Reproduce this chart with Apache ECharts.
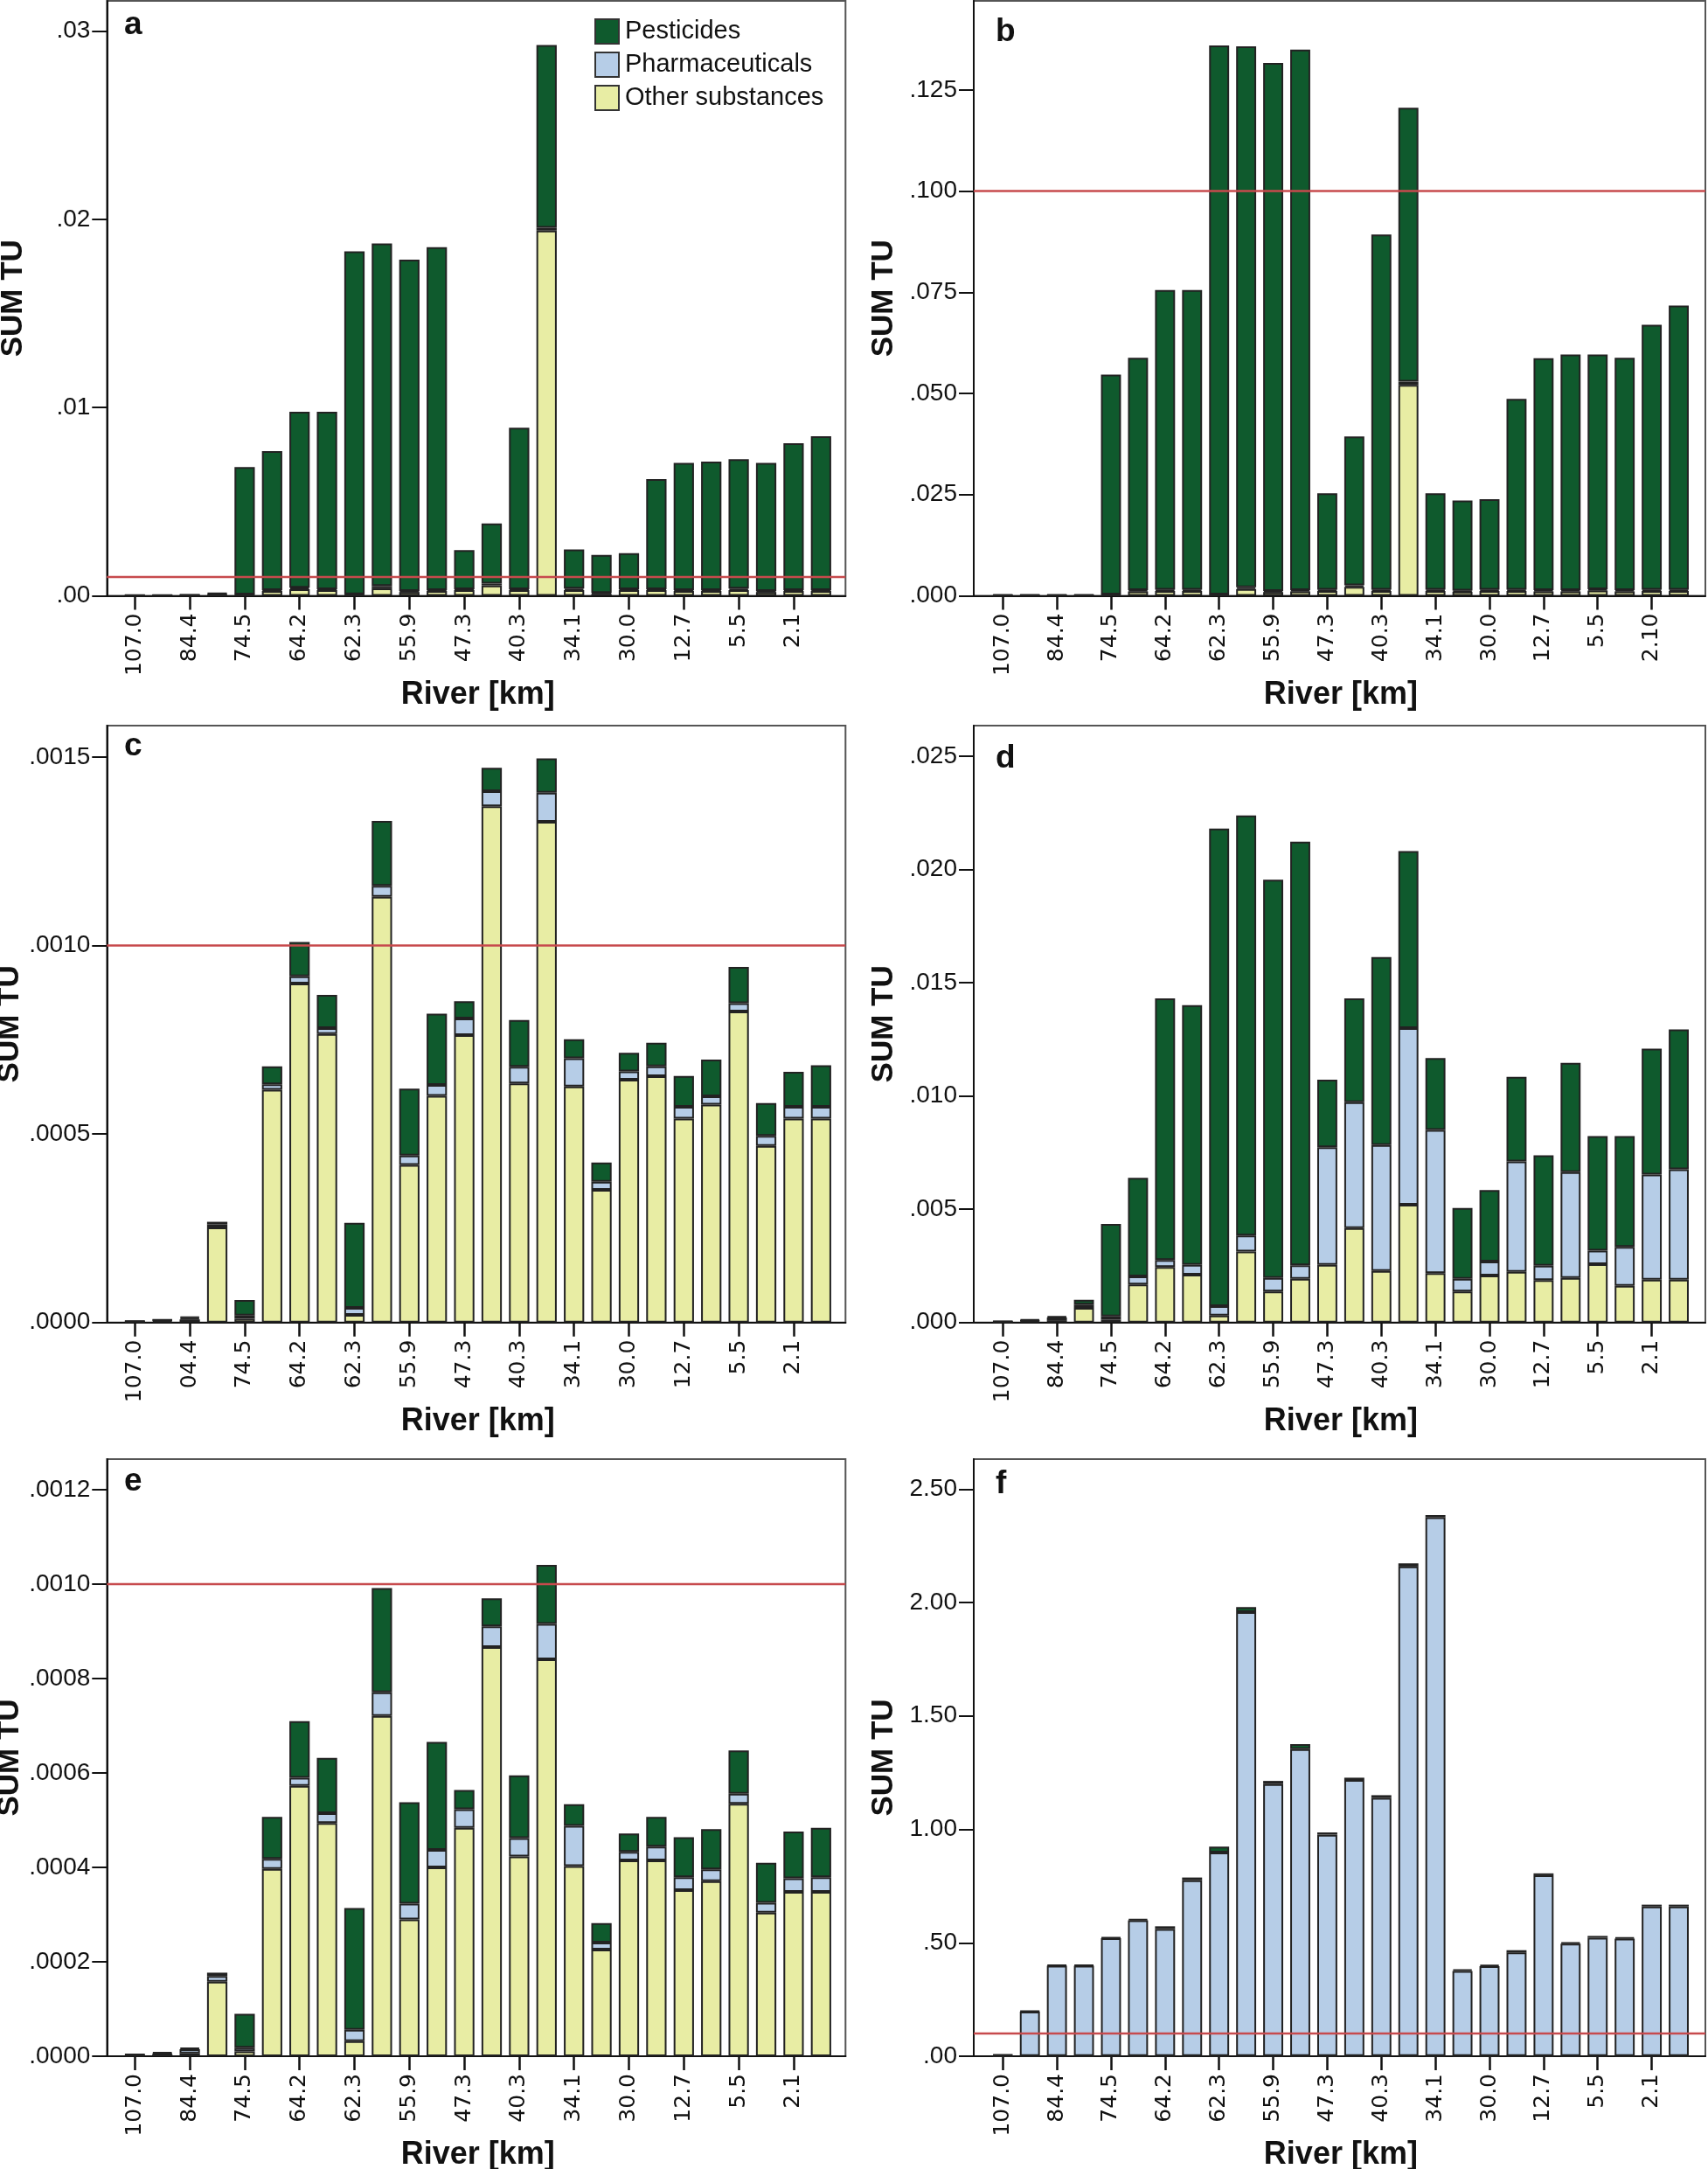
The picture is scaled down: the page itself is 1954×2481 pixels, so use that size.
<!DOCTYPE html>
<html><head><meta charset="utf-8">
<script src="https://cdn.jsdelivr.net/npm/echarts@6/dist/echarts.min.js"></script>
<style>html,body{margin:0;padding:0;background:#fff}#c{width:1954px;height:2481px}</style>
</head><body><div id="c"></div>
<script>
// ---------- categories / tick labels ----------
const kmLabels  = ['107.0','','84.4','','74.5','','64.2','','62.3','','55.9','','47.3','','40.3','','34.1','','30.0','','12.7','','5.5','','2.1',''];
const kmLabelsB = ['107.0','','84.4','','74.5','','64.2','','62.3','','55.9','','47.3','','40.3','','34.1','','30.0','','12.7','','5.5','','2.10',''];
const kmLabelsC = ['107.0','','04.4','','74.5','','64.2','','62.3','','55.9','','47.3','','40.3','','34.1','','30.0','','12.7','','5.5','','2.1',''];
const seriesNames = ['Pesticides','Pharmaceuticals','Other substances'];
const panelLetters = ['a','b','c','d','e','f'];

// ---------- panel a ----------
const pestA  = [0.00002,0.00002,0.00002,0.00005,0.00677,0.00739,0.00935,0.00943,0.01822,0.01819,0.01761,0.01822,0.00208,0.00319,0.00858,0.0097,0.00208,0.00202,0.00191,0.00585,0.00676,0.00683,0.00687,0.00681,0.0078,0.00817];
const pharmA = [0.00001,0.00001,0.00002,0.00005,0.00002,0.00005,0.00008,0.00005,0.00003,0.00012,0.00005,0.00005,0.00005,0.0001,0.00005,0.00015,0.00008,0.00005,0.00005,0.00005,0.00005,0.00005,0.00008,0.00005,0.00005,0.00005];
const otherA = [0.00002,0.00002,0.00002,0.00005,0.00005,0.00025,0.00035,0.0003,0.00005,0.0004,0.0002,0.00025,0.0003,0.00055,0.0003,0.0194,0.0003,0.0001,0.0003,0.0003,0.00025,0.00025,0.0003,0.0002,0.00025,0.00025];
// ---------- panel b ----------
const pestB  = [0.00015,0.00015,0.00015,0.00015,0.05434,0.05742,0.07407,0.07407,0.13567,0.13365,0.13047,0.13355,0.02384,0.03677,0.08775,0.06769,0.02384,0.02223,0.02237,0.04714,0.05731,0.05822,0.05802,0.05742,0.06547,0.07022];
const pharmB = [0.00005,0.00005,0.00005,0.00005,0.0001,0.0003,0.0003,0.0003,0.0001,0.0004,0.0003,0.0003,0.0003,0.0004,0.0003,0.0008,0.0003,0.0003,0.0003,0.0003,0.0003,0.0003,0.0003,0.0003,0.0003,0.0003];
const otherB = [0.0001,0.0001,0.0001,0.0001,0.0002,0.0011,0.0012,0.0012,0.0002,0.0017,0.0009,0.0011,0.0012,0.0022,0.0012,0.0521,0.0012,0.001,0.0012,0.0012,0.0011,0.0011,0.0013,0.0011,0.0012,0.0012];
// ---------- panel c ----------
const pestC  = [0.000001,0.0000015,0.000004,0.000007,0.000041,0.000047,0.000091,0.000088,0.000225,0.000172,0.000177,0.000189,0.000046,0.000062,0.000124,0.000091,0.00005,0.000051,0.000049,0.000063,0.000082,0.000097,0.000096,0.000087,0.000093,0.00011];
const pharmC = [0.000001,0.000002,0.000004,0.000008,0.0000087,0.000015,0.000019,0.000016,0.000019,0.000029,0.000025,0.000029,0.000044,0.00004,0.000044,0.000077,0.000075,0.000021,0.000022,0.000026,0.000031,0.000022,0.000022,0.000027,0.000031,0.000031];
const otherC = [0.000002,0.000004,0.000008,0.000252,0.00001,0.000617,0.000899,0.000765,0.00002,0.001129,0.000418,0.000601,0.000762,0.001369,0.000634,0.001328,0.000626,0.000352,0.000644,0.000653,0.000541,0.000578,0.000825,0.000468,0.000541,0.000541];
// ---------- panel d ----------
const pestD  = [0.00002,0.000055,0.00005,0.00021,0.004083,0.004353,0.011547,0.011463,0.021082,0.018553,0.01758,0.018698,0.002986,0.004582,0.008292,0.007815,0.003171,0.00313,0.003151,0.003732,0.004872,0.004831,0.005058,0.004892,0.005556,0.006178];
const pharmD = [0.00001,0.00002,0.00012,0.00015,0.00015,0.000353,0.000311,0.000436,0.000415,0.000705,0.000601,0.000601,0.005182,0.005555,0.005556,0.007795,0.006323,0.00056,0.000622,0.004871,0.000642,0.004664,0.000601,0.001721,0.004644,0.004872];
const otherD = [0.00003,0.00007,0.0001,0.00064,0.00012,0.001679,0.002446,0.002114,0.000311,0.00313,0.001368,0.001928,0.00255,0.004167,0.00228,0.005203,0.002177,0.001368,0.002073,0.002239,0.001866,0.001969,0.002571,0.001617,0.001886,0.001886];
// ---------- panel e ----------
const pestE  = [0.000001,0.000003,0.000003,0.000007,0.000072,0.000089,0.00012,0.000117,0.000258,0.000221,0.000215,0.000229,0.000041,0.000059,0.000133,0.000125,0.000046,0.000041,0.000039,0.000063,0.000085,0.000085,0.000092,0.000085,0.000099,0.000105];
const pharmE = [0.000001,0.000002,0.000009,0.000012,0.000008,0.000021,0.000017,0.000021,0.000024,0.00005,0.000033,0.000037,0.000039,0.000044,0.000039,0.000075,0.000085,0.000015,0.000018,0.000029,0.000027,0.000025,0.000021,0.000021,0.000029,0.000031];
const otherE = [0.000002,0.000004,0.000006,0.000158,0.00001,0.000397,0.000573,0.000494,0.000032,0.000721,0.00029,0.0004,0.000484,0.000867,0.000423,0.000841,0.000403,0.000226,0.000415,0.000415,0.000352,0.000371,0.000535,0.000304,0.000348,0.000348];
// ---------- panel f ----------
const pestF  = [0.002,0.003,0.004,0.004,0.004,0.006,0.012,0.012,0.026,0.022,0.014,0.022,0.01,0.01,0.012,0.014,0.01,0.006,0.006,0.01,0.008,0.006,0.008,0.006,0.008,0.008];
const pharmF = [0.004,0.1957,0.3975,0.3975,0.5191,0.5982,0.5598,0.7747,0.8965,1.9569,1.1985,1.3527,0.9754,1.2167,1.1376,2.1575,2.3744,0.3752,0.3955,0.4563,0.797,0.4948,0.5212,0.5171,0.6591,0.6591];
const otherF = [0.0005,0.001,0.001,0.001,0.001,0.001,0.001,0.001,0.001,0.001,0.001,0.001,0.001,0.001,0.001,0.001,0.001,0.001,0.001,0.001,0.001,0.001,0.001,0.001,0.001,0.001];

// ---------- y-axis ticks, limits, thresholds ----------
const ticksA = [0,0.01,0.02,0.03];
const ticksB = [0,0.025,0.05,0.075,0.1,0.125];
const ticksC = [0,0.0005,0.001,0.0015];
const ticksD = [0,0.005,0.01,0.015,0.02,0.025];
const ticksE = [0,0.0002,0.0004,0.0006,0.0008,0.001,0.0012];
const ticksF = [0,0.5,1,1.5,2,2.5];
const tickDecimals = [2,3,4,3,4,2];
const yMax = [0.0316,0.147,0.001583,0.02635,0.001265,2.632];
const thresholds = [0.001,0.1,0.001,null,0.001,0.1];

// ---------- styling / layout ----------
const colors = {pest:'#0f5a2d', pharm:'#b6cde7', other:'#e8eda4'};
const colBox = [
  {left:122.3, width:845, dataLeft:138.6, dataWidth:816.4, nameGap:89, letterLeft:142},
  {left:1114, width:837, dataLeft:1131.8, dataWidth:804.2, nameGap:85, letterLeft:1139}
];
const rowBox = [{top:1,height:680.5},{top:830,height:682.7},{top:1669,height:683}];
const letterTop = [10.5,18.5,835.5,849.5,1676.5,1679.5];

const panels = [
  {labels:kmLabels,  pest:pestA, pharm:pharmA, other:otherA, ticks:ticksA},
  {labels:kmLabelsB, pest:pestB, pharm:pharmB, other:otherB, ticks:ticksB},
  {labels:kmLabelsC, pest:pestC, pharm:pharmC, other:otherC, ticks:ticksC},
  {labels:kmLabels,  pest:pestD, pharm:pharmD, other:otherD, ticks:ticksD},
  {labels:kmLabels,  pest:pestE, pharm:pharmE, other:otherE, ticks:ticksE},
  {labels:kmLabels,  pest:pestF, pharm:pharmF, other:otherF, ticks:ticksF}
];

function fmt(v, d){ return v.toFixed(d).replace(/^0(?=\.)/,''); }

const option = {
  animation:false,
  backgroundColor:'#ffffff',
  textStyle:{fontFamily:'Liberation Sans, Arial, sans-serif'},
  grid:[], xAxis:[], yAxis:[], series:[], title:[],
  legend:{
    data:seriesNames, orient:'vertical', left:675, top:16,
    itemWidth:27, itemHeight:28, itemGap:8, icon:'rect', selectedMode:false,
    itemStyle:{borderColor:'#333', borderWidth:2},
    textStyle:{fontSize:29, color:'#111', lineHeight:28, padding:[0,0,0,2], fontFamily:'Liberation Sans, Arial, sans-serif'}
  }
};

panels.forEach((p,i)=>{
  const c = colBox[i%2], r = rowBox[Math.floor(i/2)];
  const gF = option.grid.length;
  option.grid.push({left:c.left, top:r.top, width:c.width, height:r.height, show:true,
    borderColor:'#555', borderWidth:2, backgroundColor:'transparent', containLabel:false, outerBoundsMode:'none'});
  option.grid.push({left:c.dataLeft, top:r.top, width:c.dataWidth, height:r.height, containLabel:false, outerBoundsMode:'none'});
  option.xAxis.push({gridIndex:gF, type:'value', min:0, max:1,
    axisLine:{show:true, onZero:false, lineStyle:{color:'#111', width:2}},
    axisTick:{show:false}, axisLabel:{show:false}, splitLine:{show:false}});
  option.xAxis.push({gridIndex:gF+1, type:'category', data:p.labels,
    axisLine:{show:false},
    axisTick:{show:true, alignWithLabel:true, interval:1, length:16, lineStyle:{color:'#111', width:2.5}},
    axisLabel:{interval:1, rotate:90, margin:20, fontSize:25, fontFamily:'DejaVu Sans', color:'#111'},
    splitLine:{show:false},
    name:'River [km]', nameLocation:'middle', nameGap:95,
    nameTextStyle:{fontSize:36, fontWeight:'bold', color:'#111', fontFamily:'Liberation Sans, Arial, sans-serif'}});
  option.yAxis.push({gridIndex:gF, type:'value', min:0, max:yMax[i],
    axisLine:{show:true, lineStyle:{color:'#111', width:2}},
    axisTick:{show:true, length:17, customValues:p.ticks, lineStyle:{color:'#111', width:2}},
    axisLabel:{customValues:p.ticks, formatter:(v)=>fmt(v, tickDecimals[i]), fontSize:28, margin:19, color:'#111'},
    splitLine:{show:false},
    name:'SUM TU', nameLocation:'middle', nameGap:c.nameGap,
    nameTextStyle:{fontSize:35, fontWeight:'bold', color:'#111', fontFamily:'Liberation Sans, Arial, sans-serif'}});
  option.yAxis.push({gridIndex:gF+1, type:'value', min:0, max:yMax[i], show:false, splitLine:{show:false}});

  const stack = 'p'+i;
  [[p.other,'Other substances',colors.other],[p.pharm,'Pharmaceuticals',colors.pharm],[p.pest,'Pesticides',colors.pest]]
    .forEach(([d,n,col])=>{
      option.series.push({type:'bar', name:n, xAxisIndex:gF+1, yAxisIndex:gF+1, stack:stack, data:d,
        barWidth:'74%', itemStyle:{color:col, borderColor:'#222', borderWidth:2},
        emphasis:{disabled:true}, z:2});
    });
  if (thresholds[i] !== null) {
    option.series.push({type:'line', xAxisIndex:gF, yAxisIndex:gF, data:[[0,thresholds[i]],[1,thresholds[i]]],
      symbol:'none', silent:true, lineStyle:{color:'#c74a4d', width:2.5}, z:5});
  }
  option.title.push({text:panelLetters[i], left:c.letterLeft, top:letterTop[i], padding:0,
    textStyle:{fontSize:37, fontWeight:'bold', color:'#111', fontFamily:'Liberation Sans, Arial, sans-serif'}});
});

const chart = echarts.init(document.getElementById('c'), null, {renderer:'canvas'});
chart.setOption(option);
</script>
</body></html>
